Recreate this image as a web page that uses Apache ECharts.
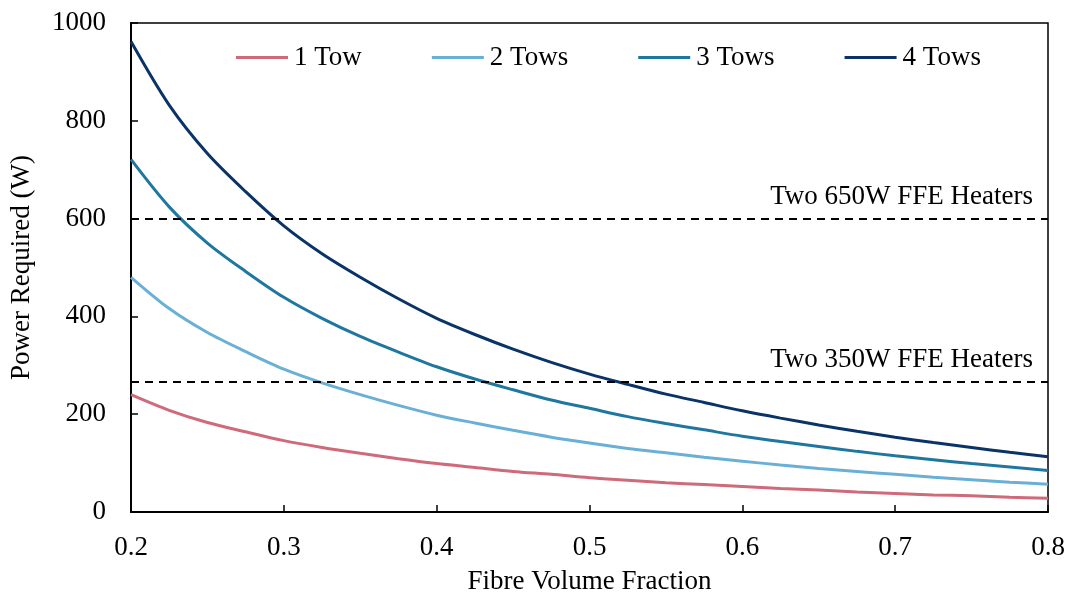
<!DOCTYPE html>
<html>
<head>
<meta charset="utf-8">
<script src="https://cdn.jsdelivr.net/npm/echarts@6/dist/echarts.min.js"></script>
<style>
  html, body { margin: 0; padding: 0; background: #fff; }
  #chart { width: 1072px; height: 593px; }
</style>
</head>
<body>
<div id="chart"></div>
<script>
// Fibre volume fraction sample points (step 0.025)
const fibreFraction = [0.2, 0.225, 0.25, 0.275, 0.3, 0.325, 0.35, 0.375, 0.4, 0.425, 0.45, 0.475,
  0.5, 0.525, 0.55, 0.575, 0.6, 0.625, 0.65, 0.675, 0.7, 0.725, 0.75, 0.775, 0.8];

// Power required (W) for each number of tows
const oneTow    = [240, 208, 183, 164, 146, 132, 120, 109, 99, 91, 83, 77,
  70, 65, 60, 56, 52, 48, 45, 41, 38, 35, 33, 30, 28];
const twoTows   = [480, 416, 367, 328, 292, 264, 240, 218, 198, 182, 167, 153,
  141, 130, 121, 112, 104, 96, 89, 83, 77, 71, 66, 61, 57];
const threeTows = [721, 624, 550, 492, 439, 396, 359, 327, 297, 272, 250, 229,
  212, 195, 181, 168, 155, 144, 134, 124, 115, 107, 99, 92, 85];
const fourTows  = [962, 832, 733, 655, 585, 528, 480, 436, 396, 363, 333, 306,
  282, 261, 241, 224, 207, 192, 178, 165, 153, 142, 132, 122, 113];

const seriesNames = ['1 Tow', '2 Tows', '3 Tows', '4 Tows'];
const seriesColors = ['#ce6a7a', '#6ab0d6', '#1f77a0', '#0a3468'];
const seriesValues = [oneTow, twoTows, threeTows, fourTows];

// Heater capacity reference lines (W)
const heaterLevels = [600, 267];
const heaterLabels = ['Two 650W FFE Heaters', 'Two 350W FFE Heaters'];

// Axis ticks
const xTicks = { min: 0.2, max: 0.8, interval: 0.1 };
const yTicks = { min: 0, max: 1000, interval: 200 };

const FONT = '"Liberation Serif", "Times New Roman", serif';
const FS = 27;

const series = seriesNames.map((name, i) => ({
  name: name,
  type: 'line',
  smooth: 0.3,
  symbol: 'none',
  lineStyle: { width: 3, color: seriesColors[i] },
  itemStyle: { color: seriesColors[i] },
  data: fibreFraction.map((x, k) => [x, seriesValues[i][k]]),
  z: 3
}));

series[0].markLine = {
  silent: true,
  symbol: ['none', 'none'],
  lineStyle: { type: [8, 6], color: '#000', width: 2 },
  label: {
    show: true,
    position: 'insideEndTop',
    fontFamily: FONT,
    fontSize: FS,
    color: '#000',
    distance: [15, 8]
  },
  data: heaterLevels.map((v, i) => ({
    yAxis: v,
    label: { formatter: heaterLabels[i] }
  }))
};

const chart = echarts.init(document.getElementById('chart'), null, { renderer: 'canvas' });
chart.setOption({
  animation: false,
  backgroundColor: '#fff',
  textStyle: { fontFamily: FONT },
  grid: {
    left: 131, right: 24, top: 23, bottom: 81,
    outerBoundsMode: 'none',
    containLabel: false,
    show: true, borderColor: '#000', borderWidth: 1.5, backgroundColor: 'transparent'
  },
  legend: {
    data: seriesNames,
    top: 44,
    left: 236,
    padding: 0,
    itemWidth: 52,
    itemHeight: 3,
    itemGap: 70,
    icon: 'rect',
    textStyle: { fontFamily: FONT, fontSize: FS, color: '#000', padding: [2, 0, 0, 1] }
  },
  xAxis: {
    type: 'value',
    min: xTicks.min, max: xTicks.max, interval: xTicks.interval,
    name: 'Fibre Volume Fraction',
    nameLocation: 'middle',
    nameGap: 56,
    nameTextStyle: { fontFamily: FONT, fontSize: FS, color: '#000' },
    axisLine: { show: true, lineStyle: { color: '#000', width: 2 } },
    axisTick: { show: true, inside: true, length: 7, lineStyle: { color: '#000', width: 1.5 } },
    axisLabel: {
      margin: 22, fontFamily: FONT, fontSize: FS, color: '#000',
      formatter: v => v.toFixed(1)
    },
    splitLine: { show: false }
  },
  yAxis: {
    type: 'value',
    min: yTicks.min, max: yTicks.max, interval: yTicks.interval,
    name: 'Power Required (W)',
    nameLocation: 'middle',
    nameGap: 96,
    nameTextStyle: { fontFamily: FONT, fontSize: FS, color: '#000' },
    axisLine: { show: true, lineStyle: { color: '#000', width: 2 } },
    axisTick: { show: true, inside: true, length: 7, lineStyle: { color: '#000', width: 1.5 } },
    axisLabel: {
      margin: 25, fontFamily: FONT, fontSize: FS, color: '#000',
      formatter: v => String(v)
    },
    splitLine: { show: false }
  },
  series: series
});
</script>
</body>
</html>
